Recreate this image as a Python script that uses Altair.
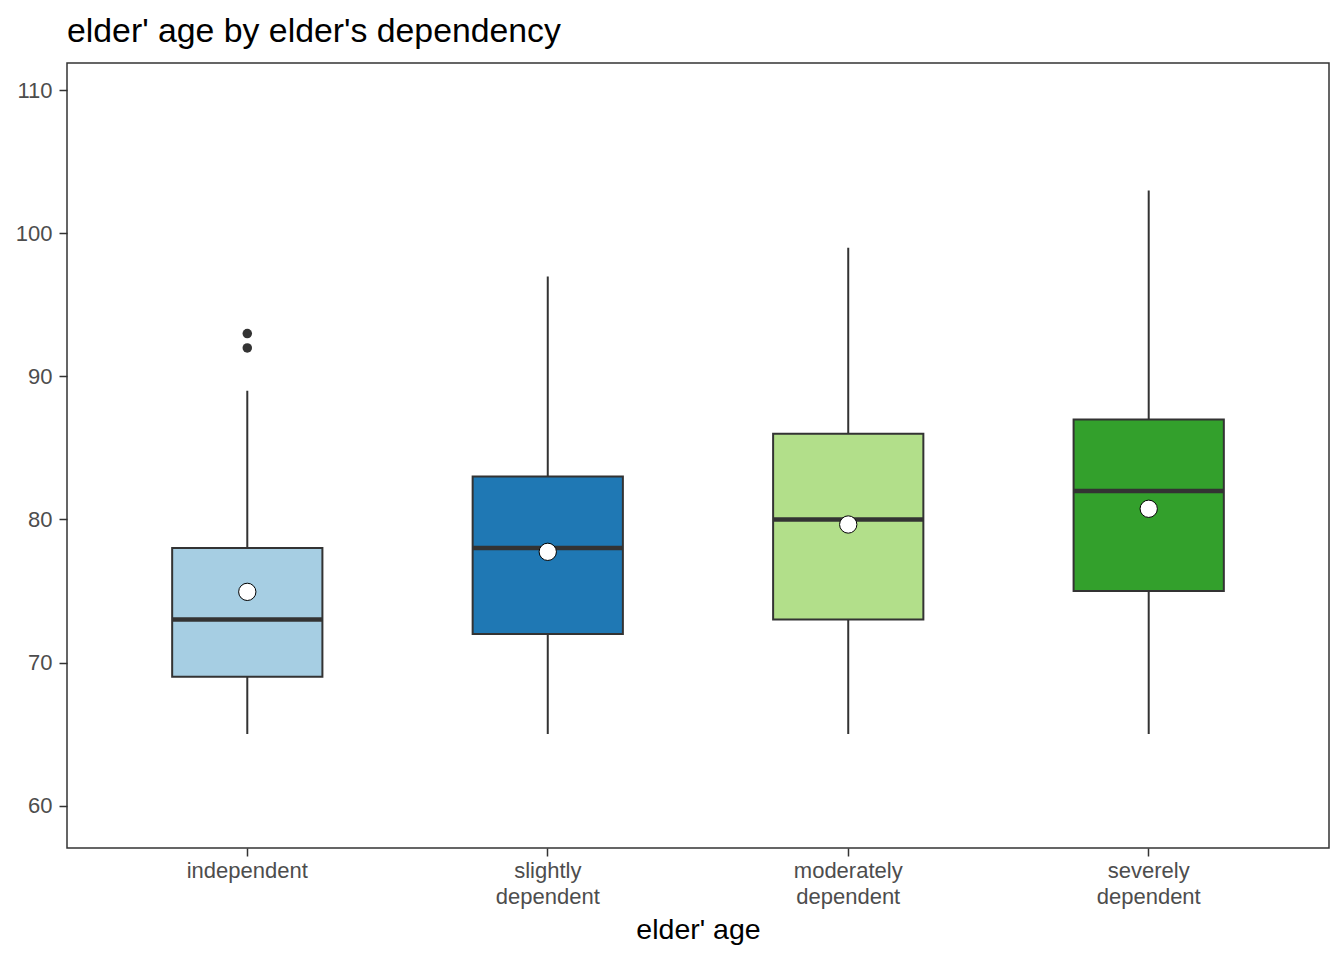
import altair as alt
import pandas as pd

categories = ["independent", "slightly dependent", "moderately dependent", "severely dependent"]
colors = ["#A6CEE3", "#1F78B4", "#B2DF8A", "#33A02C"]
whisker_low = [65, 65, 65, 65]
q1 = [69, 72, 73, 75]
median = [73, 78, 80, 82]
q3 = [78, 83, 86, 87]
whisker_high = [89, 97, 99, 103]
means = [74.94, 77.74, 79.65, 80.75]
outlier_cat = ["independent", "independent"]
outlier_val = [92, 93]

box_df = pd.DataFrame({
    "cat": categories, "lo": whisker_low, "q1": q1, "med": median,
    "q3": q3, "hi": whisker_high, "mean": means,
})
out_df = pd.DataFrame({"cat": outlier_cat, "val": outlier_val})

FONT = "Liberation Sans"
xscale = alt.Scale(domain=categories, paddingInner=0.5, paddingOuter=0.35)
yscale = alt.Scale(domain=[57.03, 111.92], nice=False, zero=False)

x_enc = alt.X("cat:N", scale=xscale, sort=categories, title="elder' age",
              axis=alt.Axis(labelAngle=0, labelExpr="split(datum.label, ' ')",
                            labelLineHeight=26, labelPadding=4, titlePadding=8))
y_axis = alt.Axis(values=[60, 70, 80, 90, 100, 110], title=None, labelPadding=7)

base = alt.Chart(box_df)

whiskers = base.mark_rule(color="#333333", strokeWidth=2).encode(
    x=x_enc,
    y=alt.Y("lo:Q", scale=yscale, axis=y_axis),
    y2="hi:Q",
)

boxes = base.mark_bar(stroke="#333333", strokeWidth=2).encode(
    x=x_enc,
    y=alt.Y("q1:Q", scale=yscale),
    y2="q3:Q",
    fill=alt.Fill("cat:N", scale=alt.Scale(domain=categories, range=colors), legend=None),
)

meds = base.mark_tick(color="#333333", thickness=4.5, size=150, opacity=1).encode(
    x=x_enc,
    y=alt.Y("med:Q", scale=yscale),
)

outl = alt.Chart(out_df).mark_circle(color="#333333", size=90, opacity=1).encode(
    x=alt.X("cat:N", scale=xscale, sort=categories),
    y=alt.Y("val:Q", scale=yscale),
)

mean_pts = base.mark_point(shape="circle", filled=True, fill="white", stroke="black",
                           strokeWidth=1, size=300, opacity=1).encode(
    x=x_enc,
    y=alt.Y("mean:Q", scale=yscale),
)

chart = alt.layer(whiskers, boxes, meds, outl, mean_pts).properties(
    width=1262, height=785,
    title=alt.TitleParams("elder' age by elder's dependency", anchor="start", frame="group",
                          fontSize=33.8, font=FONT, fontWeight="normal", color="black", offset=14),
    autosize=alt.AutoSizeParams(type="none"),
    padding={"left": 59, "top": 55, "right": 7, "bottom": 108},
).configure_view(
    stroke="#333333", strokeWidth=1.5
).configure_axis(
    grid=False, domain=False, tickColor="#333333", tickWidth=1.5, tickSize=8,
    labelColor="#4D4D4D", labelFontSize=22, labelFont=FONT,
    titleFont=FONT, titleFontSize=28.5, titleFontWeight="normal", titleColor="black",
)

chart.save("out.html", embed_options={"renderer": "svg", "actions": False})
